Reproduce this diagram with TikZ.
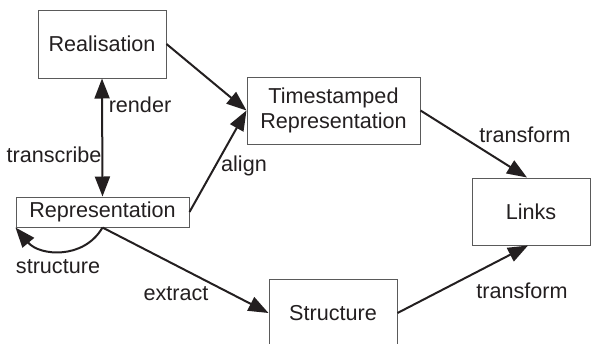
\documentclass[tikz,border=0pt]{standalone}
\usepackage{fontspec}
\setmainfont{Liberation Sans}
\usetikzlibrary{arrows.meta}

\begin{document}
\begin{tikzpicture}[x=0.5pt, y=-0.5pt, every node/.style={font=\fontsize{10.8}{12.5}\selectfont, text=txtgray}]
			% Define colors
			\definecolor{txtgray}{RGB}{35, 31, 32}
			\definecolor{boxgray}{RGB}{90, 90, 90}

			% Styles
			\tikzstyle{stage_box} = [draw=boxgray, line width=0.5pt, inner sep=0pt, align=center]
			\tikzstyle{flow} = [-{Triangle[length=10pt, width=7.5pt]}, line width=1pt, draw=txtgray]
			\tikzstyle{twoway} = [{Triangle[length=10pt, width=7.5pt]}-{Triangle[length=10pt, width=7.5pt]}, line width=1pt, draw=txtgray]

			\useasboundingbox (0,0) rectangle (592,343);

			% Boxes
			\node[stage_box, minimum width=64pt, minimum height=34pt] (real) at (102, 44) {Realisation};
			\node[stage_box, minimum width=86.5pt, minimum height=33.5pt] (stamped) at (333.5, 110.5) {Timestamped\\Representation};
			\node[stage_box, minimum width=86.5pt, minimum height=15pt] (rep) at (102.5, 212) {Representation};
			\node[stage_box, minimum width=59pt, minimum height=33.5pt] (links) at (531, 211.5) {Links};
			\node[stage_box, minimum width=64pt, minimum height=34pt] (struct) at (333, 313) {Structure};

			% Connectors
			\draw[flow] (real.east) -- (stamped.west);
			\draw[flow] (rep.east) -- (stamped.west);
			\draw[twoway] (real.south) -- (rep.north);
			\draw[flow] (stamped.east) -- ([xshift=-2pt]links.north);
			\draw[flow] (struct.east) -- ([xshift=-1.5pt]links.south);
			\draw[flow] (rep.south) -- (struct.west);
			\draw[flow] (rep.south) to[out=-120, in=-50, looseness=1.1] (rep.south west);

			% Labels
			\node (lrender) at (140, 105) {render};
			\node (ltranscribe) at (54, 155) {transcribe};
			\node (lalign) at (244, 166) {align};
			\node (ltransA) at (525, 135) {transform};
			\node (ltransB) at (522, 291) {transform};
			\node (lstructure) at (58, 267) {structure};
			\node (lextract) at (176, 294) {extract};

		\end{tikzpicture}
\end{document}
